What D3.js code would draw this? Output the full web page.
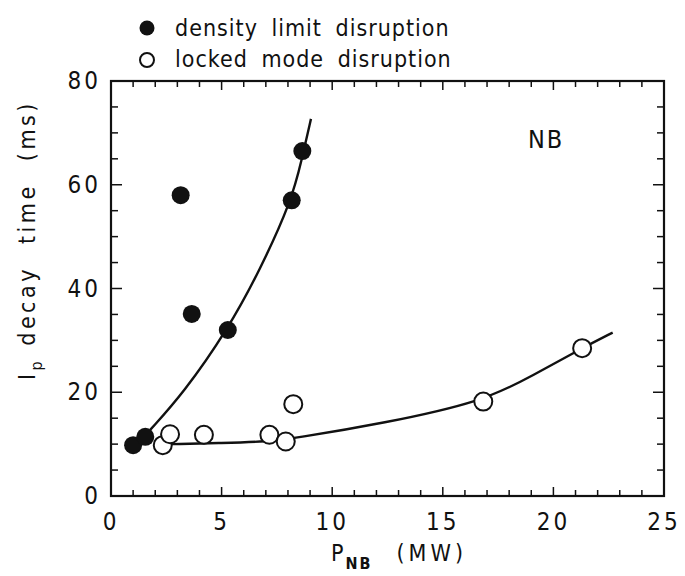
<!DOCTYPE html>
<html>
<head>
<meta charset="utf-8">
<script src="https://cdn.jsdelivr.net/npm/d3@7"></script>
<style>
  body { margin: 0; background: #fff; }
  svg text { font-family: "Liberation Sans Narrow", "DejaVu Sans Condensed", "Liberation Sans", sans-serif; fill: #111; }
</style>
</head>
<body>
<svg id="chart" width="685" height="576"></svg>
<script>
// data
let densityX = [1.0, 1.55, 3.15, 3.65, 5.28, 8.17, 8.65];
let densityY = [9.8, 11.4, 58.0, 35.1, 32.0, 57.0, 66.5];
let lockedX = [2.34, 2.67, 4.2, 7.16, 7.9, 8.24, 16.83, 21.3];
let lockedY = [9.8, 11.9, 11.8, 11.8, 10.5, 17.7, 18.2, 28.5];
// hand-drawn fit curves
let densityFitX = [1.76, 3.27, 5.28, 6.74, 8.17, 8.62, 9.04];
let densityFitY = [12.7, 19.8, 32.1, 43.6, 57.0, 64.8, 72.7];
let lockedFitX = [2.74, 5.0, 7.14, 8.24, 12.3, 16.83, 19.1, 21.3, 22.68];
let lockedFitY = [10.0, 10.2, 10.5, 11.1, 14.0, 18.2, 23.3, 28.5, 31.5];
let xTicks = [0, 5, 10, 15, 20, 25];
let yTicks = [0, 20, 40, 60, 80];

(function () {
  let svg = d3.select("#chart");
  let left = 111, right = 664, top = 81, bottom = 496;

  let x = d3.scaleLinear().domain([0, 25]).range([left, right]);
  let y = d3.scaleLinear().domain([0, 80]).range([bottom, top]);

  // Minor and major ticks, pointing inwards on all four sides.
  let g = svg.append("g").attr("stroke", "#111");
  d3.range(0, 26).forEach((v) => {
    let len = v % 5 === 0 ? 9 : 6;
    g.append("line").attr("x1", x(v)).attr("x2", x(v))
      .attr("y1", bottom).attr("y2", bottom - len).attr("stroke-width", 1.5);
    g.append("line").attr("x1", x(v)).attr("x2", x(v))
      .attr("y1", top).attr("y2", top + len).attr("stroke-width", 1.5);
  });
  d3.range(0, 81, 5).forEach((v) => {
    let len = v % 20 === 0 ? 11 : 7;
    g.append("line").attr("y1", y(v)).attr("y2", y(v))
      .attr("x1", left).attr("x2", left + len).attr("stroke-width", 1.5);
    g.append("line").attr("y1", y(v)).attr("y2", y(v))
      .attr("x1", right).attr("x2", right - len).attr("stroke-width", 1.5);
  });

  // Frame.
  svg.append("rect")
    .attr("x", left).attr("y", top)
    .attr("width", right - left).attr("height", bottom - top)
    .attr("fill", "none").attr("stroke", "#111").attr("stroke-width", 2.2);

  // Tick labels.
  svg.selectAll(".xlab").data(xTicks).enter().append("text")
    .attr("x", (d) => x(d)).attr("y", bottom + 34)
    .attr("text-anchor", "middle").attr("font-size", 24)
    .attr("letter-spacing", 3)
    .text((d) => d);
  svg.selectAll(".ylab").data(yTicks).enter().append("text")
    .attr("x", left - 10).attr("y", (d) => y(d) + 8)
    .attr("text-anchor", "end").attr("font-size", 24)
    .attr("letter-spacing", 3)
    .text((d) => d);

  // Fit curves.
  let line = d3.line().x((d) => x(d[0])).y((d) => y(d[1])).curve(d3.curveBasis);
  svg.append("path")
    .attr("d", line(d3.zip(densityFitX, densityFitY)))
    .attr("fill", "none").attr("stroke", "#111").attr("stroke-width", 2.4);
  svg.append("path")
    .attr("d", line(d3.zip(lockedFitX, lockedFitY)))
    .attr("fill", "none").attr("stroke", "#111").attr("stroke-width", 2.4);

  // Points.
  svg.selectAll(".open").data(d3.zip(lockedX, lockedY)).enter().append("circle")
    .attr("cx", (d) => x(d[0])).attr("cy", (d) => y(d[1])).attr("r", 9)
    .attr("fill", "#fff").attr("stroke", "#111").attr("stroke-width", 2);
  svg.selectAll(".filled").data(d3.zip(densityX, densityY)).enter().append("circle")
    .attr("cx", (d) => x(d[0])).attr("cy", (d) => y(d[1])).attr("r", 9)
    .attr("fill", "#111");

  // NB label.
  svg.append("text").attr("x", 528).attr("y", 148)
    .attr("font-size", 25).attr("letter-spacing", 2).text("NB");

  // Legend.
  svg.append("circle").attr("cx", 147).attr("cy", 28).attr("r", 7.5).attr("fill", "#111");
  svg.append("circle").attr("cx", 147).attr("cy", 60).attr("r", 7)
    .attr("fill", "#fff").attr("stroke", "#111").attr("stroke-width", 2);
  svg.append("text").attr("x", 175).attr("y", 36).attr("font-size", 23)
    .attr("letter-spacing", 1).attr("word-spacing", 6).text("density limit disruption");
  svg.append("text").attr("x", 175).attr("y", 67).attr("font-size", 23)
    .attr("letter-spacing", 1).attr("word-spacing", 6).text("locked mode disruption");

  // Axis titles.
  let xt = svg.append("text").attr("x", 331).attr("y", 561)
    .attr("font-size", 23).attr("letter-spacing", 2);
  xt.append("tspan").text("P");
  xt.append("tspan").attr("dy", 8).attr("font-size", 16).attr("font-weight", "bold").text("NB");
  xt.append("tspan").attr("dy", -8).attr("dx", 24).attr("letter-spacing", 4).text("(MW)");

  let yt = svg.append("text")
    .attr("transform", "translate(35,380) rotate(-90)")
    .attr("font-size", 23).attr("letter-spacing", 3.5);
  yt.append("tspan").text("I");
  yt.append("tspan").attr("dy", 7).attr("font-size", 16).text("p");
  yt.append("tspan").attr("dy", -7).attr("dx", 12).attr("word-spacing", 12).text("decay time (ms)");
})();
</script>
</body>
</html>
